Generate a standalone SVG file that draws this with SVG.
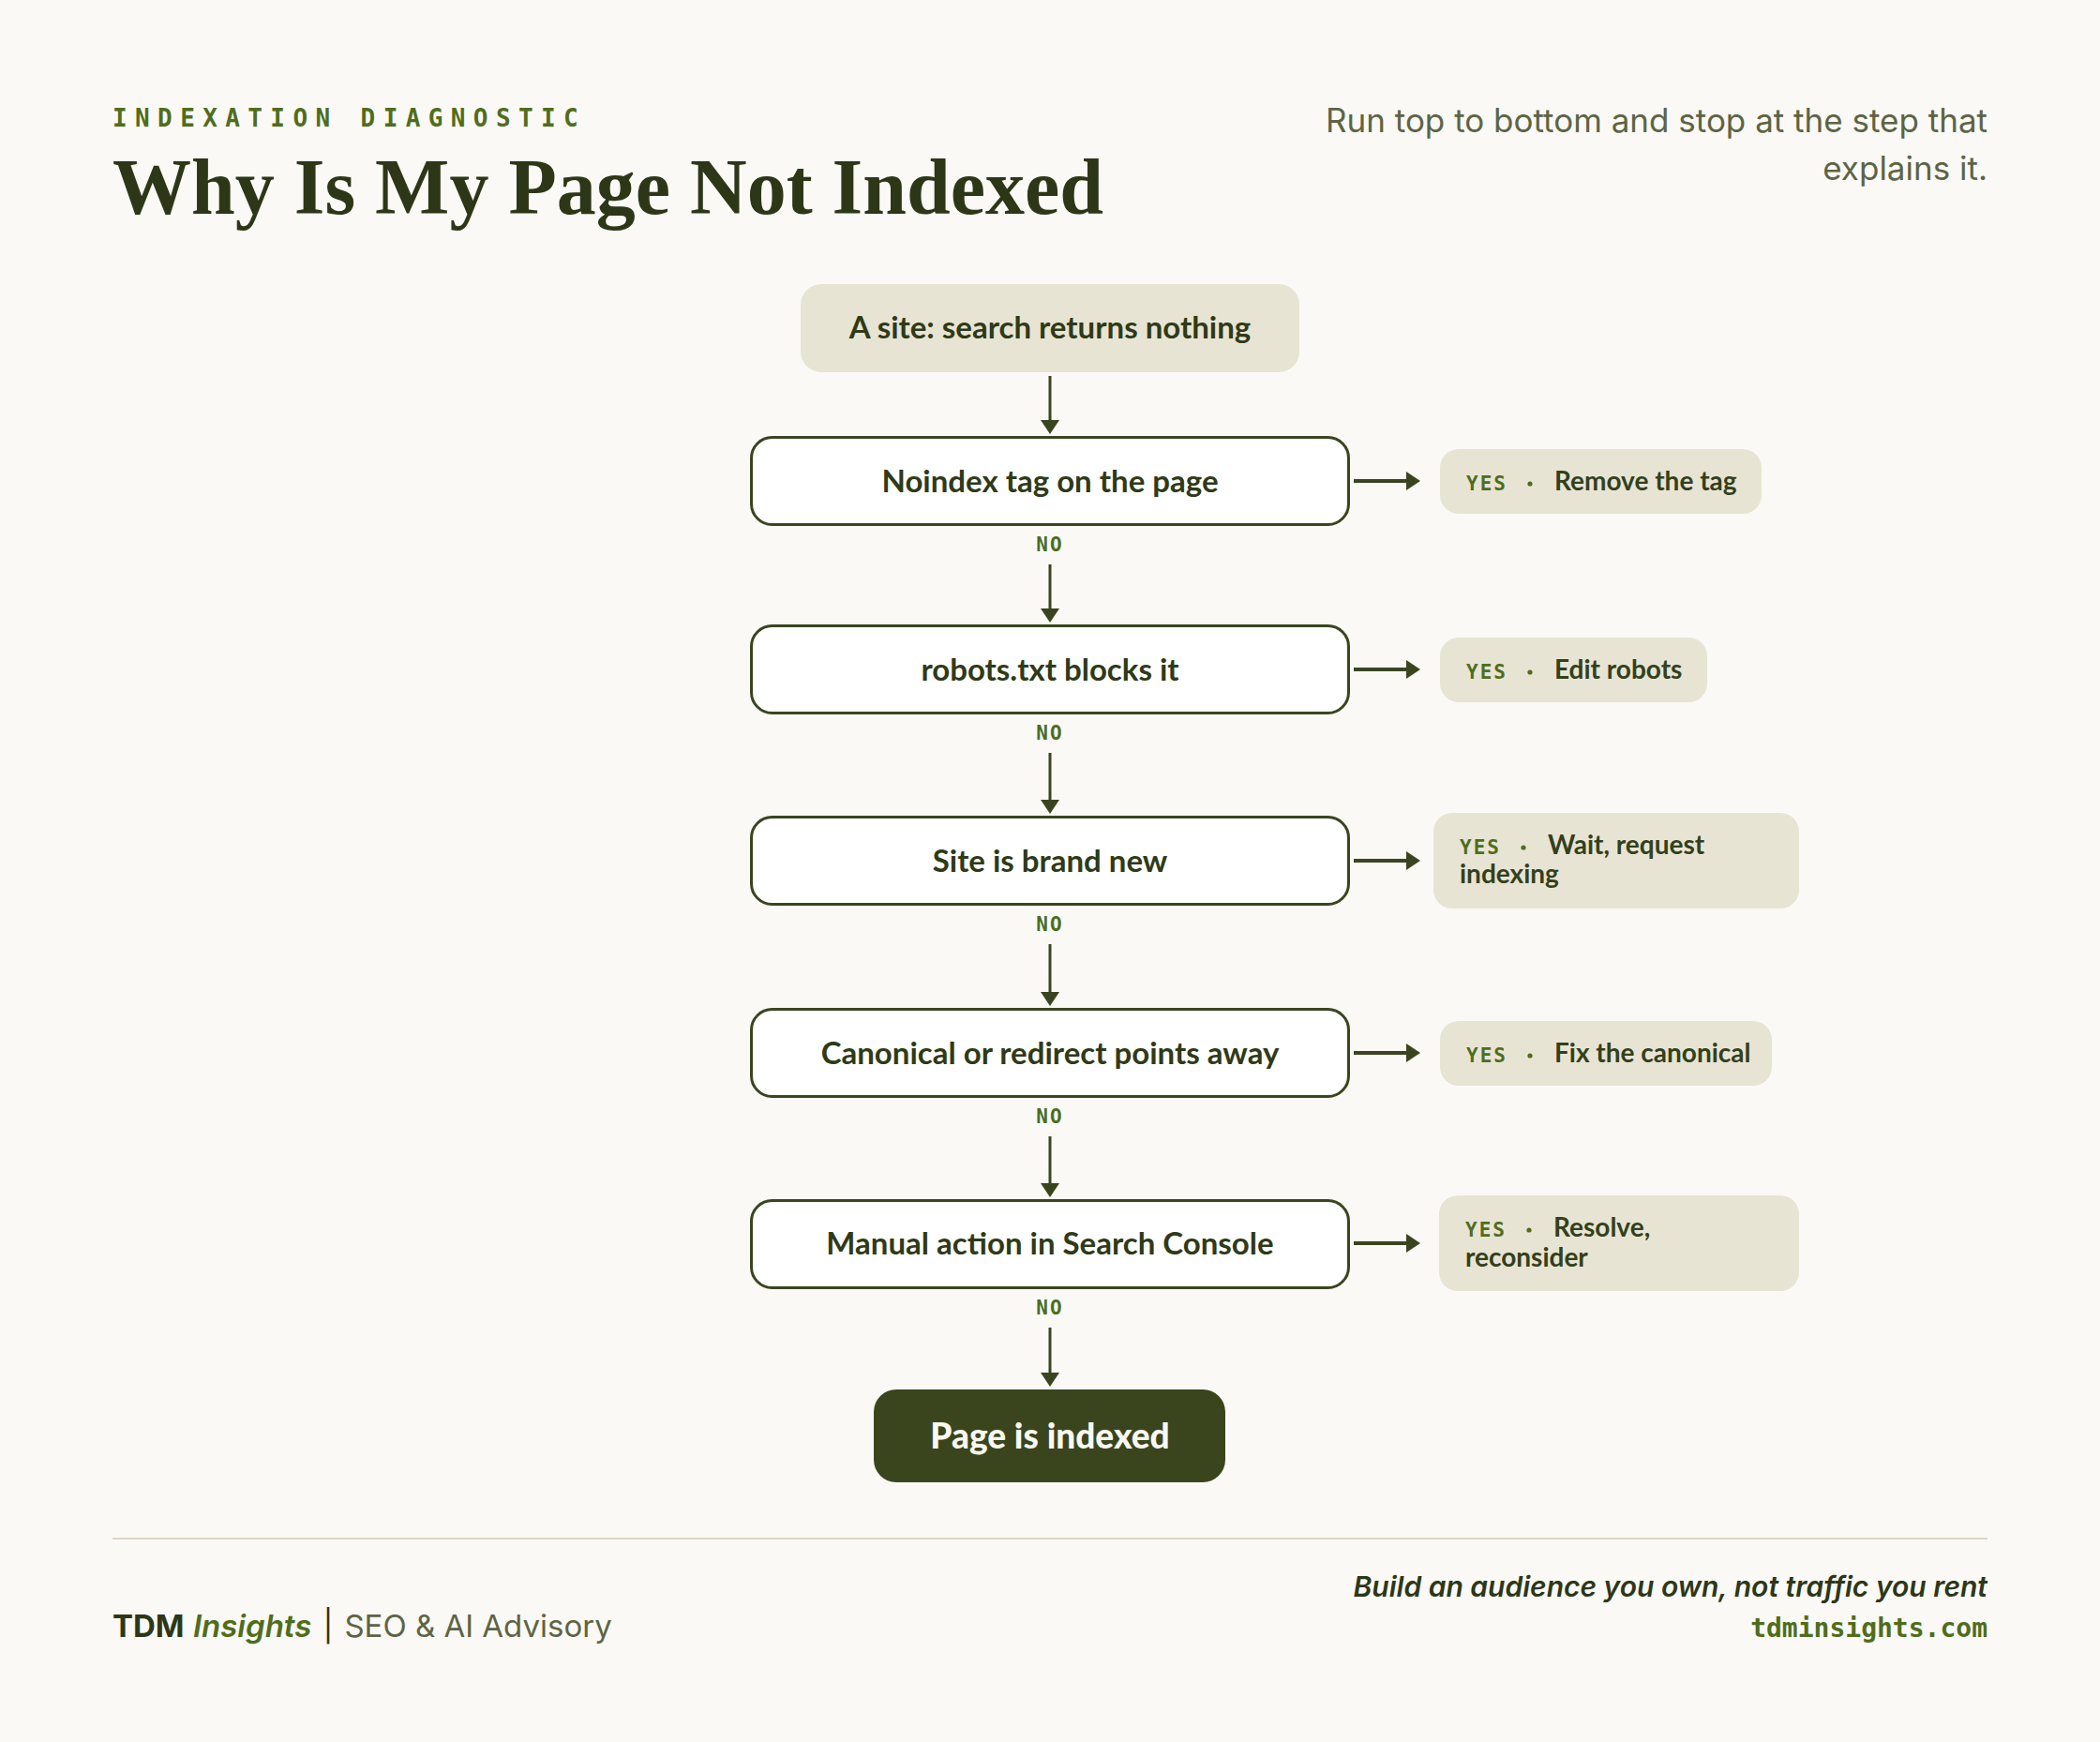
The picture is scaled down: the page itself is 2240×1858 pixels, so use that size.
<svg xmlns="http://www.w3.org/2000/svg" width="2240" height="1858" viewBox="0 0 2240 1858">
<style>
.sans{font-family:Inter,Lato,"Noto Sans","Liberation Sans",sans-serif}
.mono{font-family:"DejaVu Sans Mono","Liberation Mono",monospace;font-weight:bold}
.step{fill:#ffffff;stroke:#3a4520;stroke-width:3}
.steptxt{font-family:Lato,"Noto Sans",sans-serif;font-weight:700;font-size:33px;fill:#2f3a17;text-anchor:middle}
.res{fill:#e8e4d4}
.yes{font-family:"DejaVu Sans Mono","Liberation Mono",monospace;font-weight:bold;font-size:21px;fill:#4f6d1c;letter-spacing:2px}
.restxt{font-family:Lato,"Noto Sans",sans-serif;font-weight:700;font-size:28px;fill:#33401b}
.no{font-family:"DejaVu Sans Mono","Liberation Mono",monospace;font-weight:bold;font-size:21px;fill:#4f6d1c;letter-spacing:2px;text-anchor:middle}
.v{stroke:#3a4520;stroke-width:3;fill:none}
.h{stroke:#3a4520;stroke-width:4;fill:none}
</style>
<defs>
<marker id="ah" markerWidth="15" markerHeight="20" refX="5" refY="10" orient="auto" markerUnits="userSpaceOnUse">
<path d="M0,0 L15,10 L0,20 Z" fill="#3a4520"/>
</marker>
</defs>
<rect x="0" y="0" width="2240" height="1858" fill="#faf9f5"/>

<g id="header">
<text x="120" y="135" class="mono" font-size="26" fill="#4f6d1c" letter-spacing="8.4">INDEXATION DIAGNOSTIC</text>
<text x="120" y="228" font-family="'Liberation Serif','Times New Roman',serif" font-weight="bold" font-size="84" fill="#2d3718">Why Is My Page Not Indexed</text>
<text x="2120" y="141" class="sans" font-size="35" fill="#5d6444" text-anchor="end">Run top to bottom and stop at the step that</text>
<text x="2120" y="192" class="sans" font-size="35" fill="#5d6444" text-anchor="end">explains it.</text>
</g>

<g id="connectors">
<line class="v" x1="1120" y1="401" x2="1120" y2="453" marker-end="url(#ah)"/>
<text class="no" x="1120" y="588">NO</text>
<line class="v" x1="1120" y1="602" x2="1120" y2="654" marker-end="url(#ah)"/>
<text class="no" x="1120" y="789">NO</text>
<line class="v" x1="1120" y1="803" x2="1120" y2="858" marker-end="url(#ah)"/>
<text class="no" x="1120" y="993">NO</text>
<line class="v" x1="1120" y1="1007" x2="1120" y2="1063" marker-end="url(#ah)"/>
<text class="no" x="1120" y="1198">NO</text>
<line class="v" x1="1120" y1="1212" x2="1120" y2="1267" marker-end="url(#ah)"/>
<text class="no" x="1120" y="1402">NO</text>
<line class="v" x1="1120" y1="1416" x2="1120" y2="1469" marker-end="url(#ah)"/>

<line class="h" x1="1444" y1="513" x2="1505" y2="513" marker-end="url(#ah)"/>
<line class="h" x1="1444" y1="714" x2="1505" y2="714" marker-end="url(#ah)"/>
<line class="h" x1="1444" y1="918" x2="1505" y2="918" marker-end="url(#ah)"/>
<line class="h" x1="1444" y1="1123" x2="1505" y2="1123" marker-end="url(#ah)"/>
<line class="h" x1="1444" y1="1326" x2="1505" y2="1326" marker-end="url(#ah)"/>
</g>

<g id="start">
<rect x="854" y="303" width="532" height="94" rx="22" fill="#e8e4d4"/>
<text class="steptxt" x="1120" y="361">A site: search returns nothing</text>
</g>

<g id="step1">
<rect class="step" x="801.5" y="466.5" width="637" height="93" rx="22"/>
<text class="steptxt" x="1120" y="525">Noindex tag on the page</text>
</g>
<g id="result1">
<rect class="res" x="1536" y="479" width="343" height="69" rx="20"/>
<text class="yes" x="1564" y="523">YES</text>
<circle cx="1632" cy="516" r="2.6" fill="#4f6d1c"/>
<text class="restxt" x="1658" y="523">Remove the tag</text>
</g>

<g id="step2">
<rect class="step" x="801.5" y="667.5" width="637" height="93" rx="22"/>
<text class="steptxt" x="1120" y="726">robots.txt blocks it</text>
</g>
<g id="result2">
<rect class="res" x="1536" y="680" width="285" height="69" rx="20"/>
<text class="yes" x="1564" y="724">YES</text>
<circle cx="1632" cy="717" r="2.6" fill="#4f6d1c"/>
<text class="restxt" x="1658" y="724">Edit robots</text>
</g>

<g id="step3">
<rect class="step" x="801.5" y="871.5" width="637" height="93" rx="22"/>
<text class="steptxt" x="1120" y="930">Site is brand new</text>
</g>
<g id="result3">
<rect class="res" x="1529" y="867" width="390" height="102" rx="20"/>
<text class="yes" x="1557" y="911">YES</text>
<circle cx="1625" cy="904" r="2.6" fill="#4f6d1c"/>
<text class="restxt" x="1651" y="911">Wait, request</text>
<text class="restxt" x="1557" y="942">indexing</text>
</g>

<g id="step4">
<rect class="step" x="801.5" y="1076.5" width="637" height="93" rx="22"/>
<text class="steptxt" x="1120" y="1135">Canonical or redirect points away</text>
</g>
<g id="result4">
<rect class="res" x="1536" y="1089" width="354" height="69" rx="20"/>
<text class="yes" x="1564" y="1133">YES</text>
<circle cx="1632" cy="1126" r="2.6" fill="#4f6d1c"/>
<text class="restxt" x="1658" y="1133">Fix the canonical</text>
</g>

<g id="step5">
<rect class="step" x="801.5" y="1280.5" width="637" height="93" rx="22"/>
<text class="steptxt" x="1120" y="1338">Manual action in Search Console</text>
</g>
<g id="result5">
<rect class="res" x="1535" y="1275" width="384" height="102" rx="20"/>
<text class="yes" x="1563" y="1319">YES</text>
<circle cx="1631" cy="1312" r="2.6" fill="#4f6d1c"/>
<text class="restxt" x="1657" y="1319">Resolve,</text>
<text class="restxt" x="1563" y="1351">reconsider</text>
</g>

<g id="end">
<rect x="932" y="1482" width="375" height="99" rx="24" fill="#3a451e"/>
<text x="1120" y="1545" font-family="Lato,'Noto Sans',sans-serif" font-weight="900" font-size="37" fill="#faf8f0" text-anchor="middle">Page is indexed</text>
</g>

<g id="footer">
<line x1="120" y1="1641" x2="2120" y2="1641" stroke="#dcd7c6" stroke-width="2"/>
<text x="120" y="1746" class="sans" font-size="33" fill="#5d6444"><tspan font-weight="700" fill="#2d3718">TDM</tspan> <tspan font-style="italic" font-weight="600" fill="#4f6d1c">Insights</tspan><tspan dx="12" fill="#2d3718">|</tspan><tspan dx="12">SEO &amp; AI Advisory</tspan></text>
<text x="2120" y="1703" class="sans" font-size="30" font-style="italic" font-weight="600" fill="#2d3718" text-anchor="end">Build an audience you own, not traffic you rent</text>
<text x="2120" y="1746" class="mono" font-size="28" font-weight="normal" fill="#4f6d1c" text-anchor="end">tdminsights.com</text>
</g>
</svg>
